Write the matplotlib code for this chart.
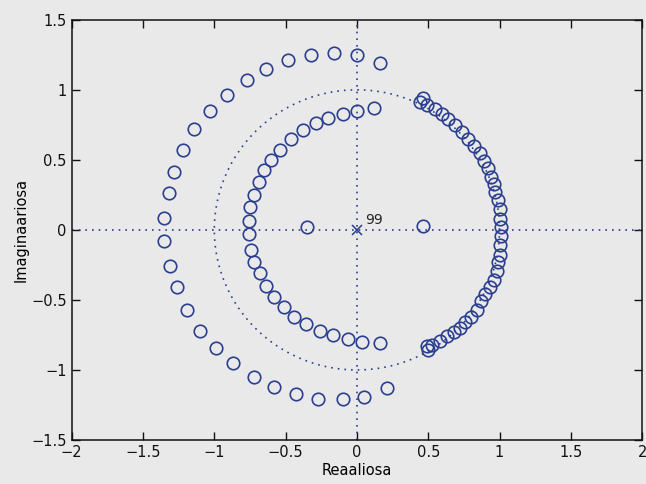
import numpy as np
import matplotlib
matplotlib.use("Agg")
import matplotlib.pyplot as plt

outer_re = [0.16, 0.00, -0.16, -0.32, -0.48, -0.64, -0.77, -0.91, -1.03, -1.14, -1.22, -1.28,
            -1.32, -1.35, -1.35, -1.31, -1.26, -1.19, -1.10, -0.99, -0.87, -0.72, -0.58, -0.43,
            -0.27, -0.10, 0.05, 0.21]
outer_im = [1.19, 1.25, 1.26, 1.25, 1.21, 1.15, 1.07, 0.965, 0.85, 0.72, 0.57, 0.415,
            0.26, 0.085, -0.08, -0.26, -0.41, -0.57, -0.72, -0.84, -0.95, -1.05, -1.12, -1.17,
            -1.21, -1.21, -1.19, -1.13]

inner_re = [0.12, 0.00, -0.10, -0.20, -0.29, -0.38, -0.46, -0.54, -0.60, -0.65, -0.69, -0.72,
            -0.75, -0.76, -0.76, -0.74, -0.72, -0.68, -0.64, -0.58, -0.51, -0.44, -0.36, -0.26,
            -0.17, -0.06, 0.035, 0.16]
inner_im = [0.87, 0.85, 0.83, 0.80, 0.76, 0.71, 0.65, 0.57, 0.50, 0.43, 0.34, 0.25,
            0.16, 0.06, -0.03, -0.14, -0.23, -0.31, -0.40, -0.48, -0.55, -0.62, -0.67, -0.72,
            -0.75, -0.78, -0.80, -0.81]

axis_re = [-0.35, 0.46]
axis_im = [0.02, 0.03]

unit_re = [0.46, 0.44, 0.49, 0.55, 0.60, 0.64, 0.69, 0.74, 0.78, 0.82, 0.86, 0.89, 0.92,
           0.94, 0.96, 0.97, 0.99, 1.00, 1.00, 1.01, 1.01, 1.00, 1.00, 0.99, 0.98, 0.96,
           0.93, 0.90, 0.87, 0.84, 0.80, 0.76, 0.72, 0.68, 0.63, 0.58, 0.53, 0.49, 0.50]
unit_im = [0.94, 0.91, 0.89, 0.86, 0.83, 0.79, 0.75, 0.70, 0.65, 0.60, 0.55, 0.49, 0.44,
           0.38, 0.33, 0.27, 0.21, 0.15, 0.08, 0.02, -0.04, -0.11, -0.18, -0.23, -0.29, -0.36,
           -0.41, -0.46, -0.51, -0.57, -0.62, -0.66, -0.70, -0.73, -0.76, -0.79, -0.82, -0.83, -0.86]

pole_re = [0.0]
pole_im = [0.0]
pole_label = "99"

x_ticks = [-2, -1.5, -1, -0.5, 0, 0.5, 1, 1.5, 2]
y_ticks = [-1.5, -1, -0.5, 0, 0.5, 1, 1.5]

BLUE = "#2b3f8e"
PAPER = "#e9e9ea"


def tick_text(v):
    s = f"{v:g}"
    return s.replace("-", "\u2212")


def plot_zplane(output_path: str):
    """Draw the pole-zero diagram and save it."""
    fig = plt.figure(figsize=(6.46, 4.84), dpi=100, facecolor=PAPER)
    ax = fig.add_axes([0.111, 0.091, 0.883, 0.868])
    ax.set_facecolor(PAPER)

    # unit circle and the axes, dotted
    dots = (0, (1, 3))
    t = np.linspace(0, 2 * np.pi, 400)
    ax.plot(np.cos(t), np.sin(t), ls=dots, color=BLUE, lw=1.2)
    ax.axhline(0, ls=dots, color=BLUE, lw=1.2)
    ax.axvline(0, ls=dots, color=BLUE, lw=1.2)

    zero_style = dict(ls="none", marker="o", ms=9, mfc="none", mec=BLUE, mew=1.2)
    ax.plot(outer_re, outer_im, **zero_style)
    ax.plot(inner_re, inner_im, **zero_style)
    ax.plot(axis_re, axis_im, **zero_style)
    ax.plot(unit_re, unit_im, **zero_style)

    ax.plot(pole_re, pole_im, ls="none", marker="x", ms=7, mec=BLUE, mew=1.1)
    ax.text(pole_re[0] + 0.06, pole_im[0] + 0.04, pole_label, fontsize=10, color="#222222")

    ax.set_xlim(-2, 2)
    ax.set_ylim(-1.5, 1.5)
    ax.set_xticks(x_ticks)
    ax.set_xticklabels([tick_text(v) for v in x_ticks])
    ax.set_yticks(y_ticks)
    ax.set_yticklabels([tick_text(v) for v in y_ticks])
    ax.tick_params(direction="in", top=True, right=True, length=6, width=1,
                   labelsize=10.5, colors="#111111")
    for sp in ax.spines.values():
        sp.set_linewidth(1.1)
        sp.set_color("#111111")

    ax.set_xlabel("Reaaliosa", fontsize=10.5, labelpad=2)
    ax.set_ylabel("Imaginaariosa", fontsize=10.5, labelpad=2)

    fig.savefig(output_path, dpi=100, facecolor=PAPER)
    plt.close(fig)


if __name__ == "__main__":
    plot_zplane("out.png")
